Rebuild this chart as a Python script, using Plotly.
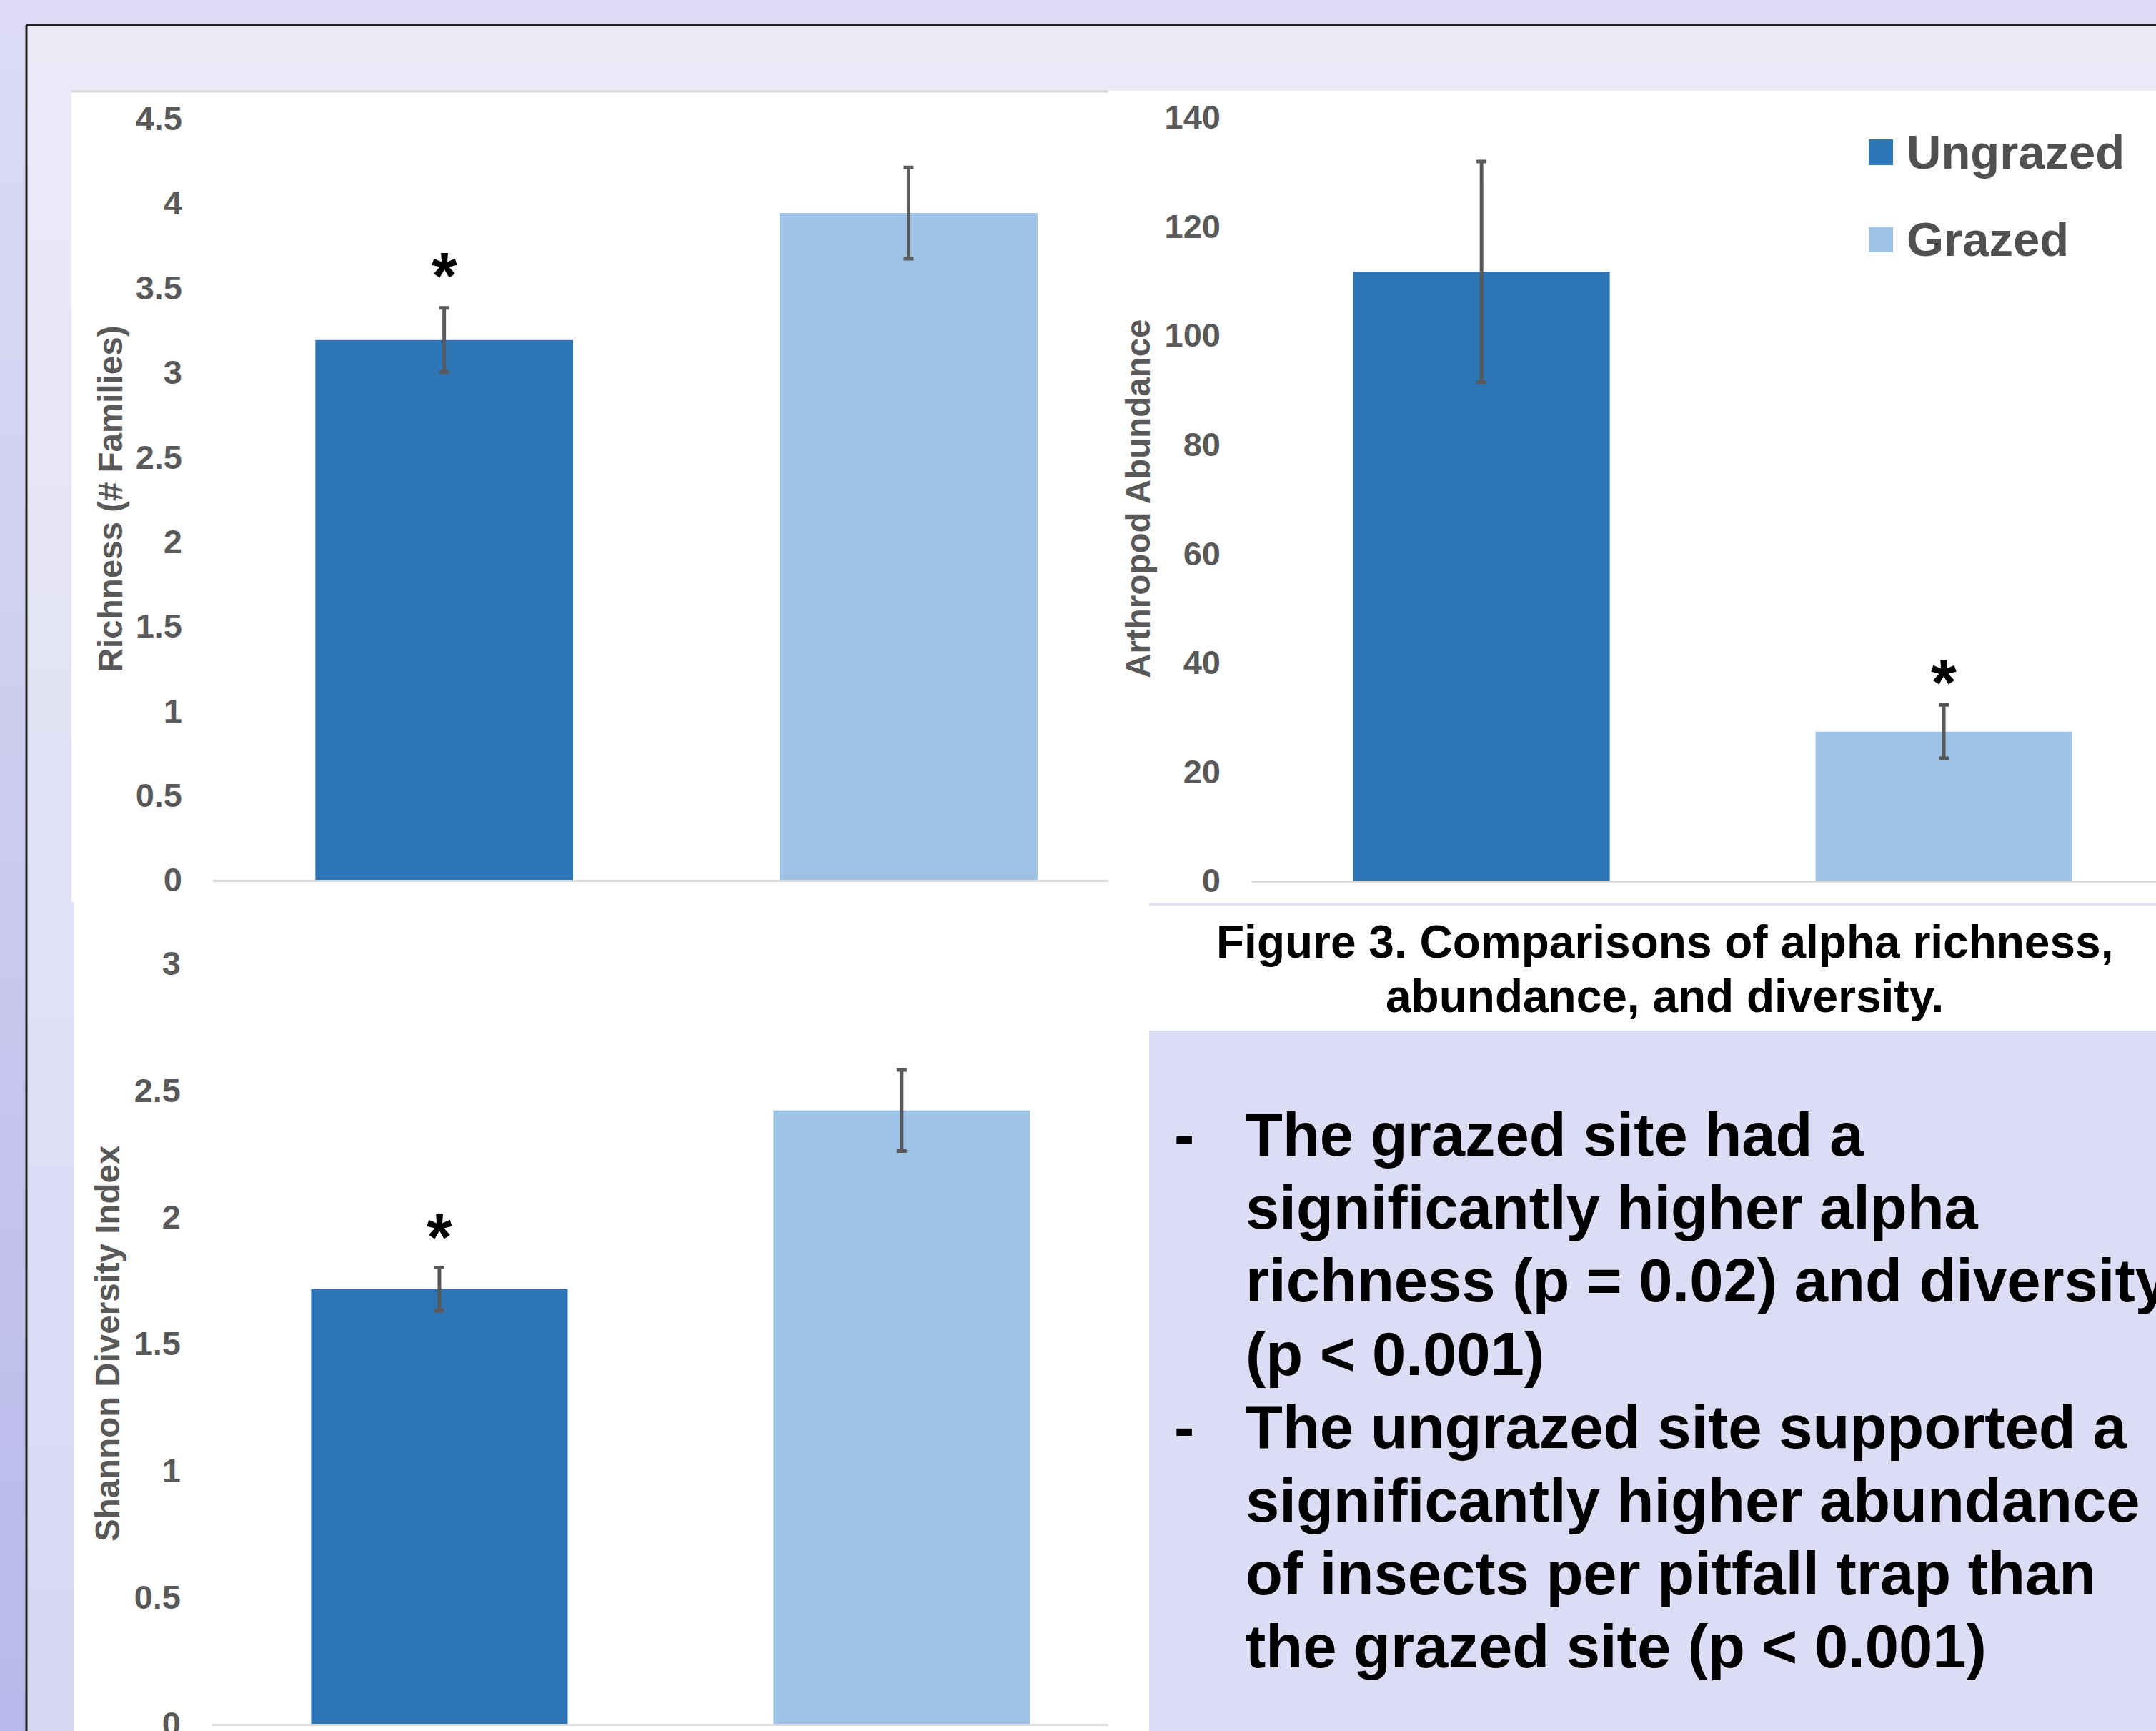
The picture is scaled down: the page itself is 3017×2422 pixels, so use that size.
import plotly.graph_objects as go

W, H = 3017, 2422
FONT = "Liberation Sans, Arial, sans-serif"
AXIS_GREY = "#595959"

# ---- data -------------------------------------------------------------
groups = ["Ungrazed", "Grazed"]
bar_colors = ["#2e75b6", "#9dc3e6"]

richness = [3.19, 3.94]
richness_se = [0.19, 0.27]
richness_sig = [True, False]
richness_ticks = [0, 0.5, 1, 1.5, 2, 2.5, 3, 3.5, 4, 4.5]

abundance = [111.6, 27.3]
abundance_se = [20.2, 4.9]
abundance_sig = [False, True]
abundance_ticks = [0, 20, 40, 60, 80, 100, 120, 140]

shannon = [1.715, 2.42]
shannon_se = [0.085, 0.16]
shannon_sig = [True, False]
shannon_ticks = [0, 0.5, 1, 1.5, 2, 2.5, 3]

caption_lines = [
    "Figure 3. Comparisons of alpha richness,",
    "abundance, and diversity.",
]
bullets = [
    ["The grazed site had a",
     "significantly higher alpha",
     "richness (p = 0.02) and diversity",
     "(p &lt; 0.001)"],
    ["The ungrazed site supported a",
     "significantly higher abundance",
     "of insects per pitfall trap than",
     "the grazed site (p &lt; 0.001)"],
]


# ---- helpers (pixel -> paper coordinates) -----------------------------
def fx(x):
    return x / W


def fy(y):
    return 1 - y / H


def rect(x0, y0, x1, y1, color):
    return dict(type="rect", xref="paper", yref="paper", layer="below",
                x0=fx(x0), x1=fx(x1), y0=fy(y1), y1=fy(y0),
                fillcolor=color, line=dict(width=0))


def hex2rgb(c):
    c = c.lstrip("#")
    return [int(c[i:i + 2], 16) for i in (0, 2, 4)]


def mix(c0, c1, t):
    a, b = hex2rgb(c0), hex2rgb(c1)
    return "rgb({},{},{})".format(*[round(a[i] + (b[i] - a[i]) * t) for i in range(3)])


shapes = []

# poster background: outer and inner vertical gradients
N = 48
for i in range(N):
    y0 = H * i / N
    y1 = H * (i + 1) / N + 1
    t = (i + 0.5) / N
    shapes.append(rect(0, y0, W, y1, mix("#dddcf4", "#b8b8ea", t)))
for i in range(N):
    y0 = 35 + (H - 35) * i / N
    y1 = 35 + (H - 35) * (i + 1) / N + 1
    t = (i + 0.5) / N
    shapes.append(rect(37, y0, W, y1, mix("#ebebf8", "#d7d7f4", t)))

# frame line
shapes.append(dict(type="line", xref="paper", yref="paper", layer="below",
                   x0=fx(37), x1=1, y0=fy(35), y1=fy(35),
                   line=dict(color="#1e1e1e", width=3)))
shapes.append(dict(type="line", xref="paper", yref="paper", layer="below",
                   x0=fx(37), x1=fx(37), y0=fy(35), y1=0,
                   line=dict(color="#1e1e1e", width=3)))

# white chart panels
shapes.append(rect(100, 127, 1551, 1262, "#ffffff"))
shapes.append(rect(1551, 127, W, 1263, "#ffffff"))
shapes.append(rect(104, 1260, 1608, H, "#ffffff"))
shapes.append(rect(1608, 1267, W, 1442, "#ffffff"))
shapes.append(dict(type="line", xref="paper", yref="paper", layer="below",
                   x0=fx(100), x1=fx(1551), y0=fy(128), y1=fy(128),
                   line=dict(color="#d6d6de", width=3)))
# text box
shapes.append(rect(1608, 1442, W, H, "#dddcf5"))

# ---- chart panels ----------------------------------------------------
panels = [
    dict(vals=richness, se=richness_se, sig=richness_sig, ticks=richness_ticks,
         title="Richness (# Families)", xdom=(298, 1551), xr=(-0.498, 1.43),
         zero_px=1231, top_px=165.5, title_x=154, star_shift=-8),
    dict(vals=abundance, se=abundance_se, sig=abundance_sig, ticks=abundance_ticks,
         title="Arthropod Abundance", xdom=(1751, W), xr=(-0.498, 1.459),
         zero_px=1232, top_px=163.5, title_x=1593, star_shift=-22),
    dict(vals=shannon, se=shannon_se, sig=shannon_sig, ticks=shannon_ticks,
         title="Shannon Diversity Index", xdom=(296, 1551), xr=(-0.493, 1.447),
         zero_px=2412, top_px=1348, title_x=150, star_shift=-10),
]

fig = go.Figure()
annotations = []
layout_axes = {}

for k, p in enumerate(panels, start=1):
    xa = "x" if k == 1 else f"x{k}"
    ya = "y" if k == 1 else f"y{k}"
    fig.add_trace(go.Bar(
        x=groups, y=p["vals"], width=0.555,
        marker=dict(color=bar_colors, line=dict(width=0)),
        error_y=dict(type="data", array=p["se"], color=AXIS_GREY,
                     thickness=5, width=7),
        xaxis=xa, yaxis=ya, showlegend=False,
    ))
    layout_axes["xaxis" if k == 1 else f"xaxis{k}"] = dict(
        domain=[fx(p["xdom"][0]), fx(p["xdom"][1])],
        range=list(p["xr"]), type="category", anchor=ya, automargin=False,
        showticklabels=False, showgrid=False, zeroline=False, ticks="",
        showline=True, linecolor="#d9d9d9", linewidth=3,
    )
    layout_axes["yaxis" if k == 1 else f"yaxis{k}"] = dict(
        domain=[fy(p["zero_px"]), fy(p["top_px"])],
        range=[0, p["ticks"][-1]], anchor=xa, automargin=False,
        tickvals=p["ticks"], showgrid=False, zeroline=False, showline=False,
        ticks="", ticklabelstandoff=42, ticklabeloverflow="allow",
        tickfont=dict(family=FONT, size=47, color=AXIS_GREY, weight="bold"),
    )
    # axis title
    annotations.append(dict(
        xref="paper", yref="paper", x=fx(p["title_x"]),
        y=(fy(p["zero_px"]) + fy(p["top_px"])) / 2,
        text=p["title"], textangle=-90, showarrow=False,
        xanchor="center", yanchor="middle",
        font=dict(family=FONT, size=47.5, color=AXIS_GREY, weight="bold"),
    ))
    # significance markers
    for g, v, e, s in zip(groups, p["vals"], p["se"], p["sig"]):
        if s:
            annotations.append(dict(
                xref=xa, yref=ya, x=g, y=v + e, text="*", showarrow=False,
                yanchor="bottom", yshift=p["star_shift"],
                font=dict(family=FONT, size=92, color="#000000", weight="bold"),
            ))

# ---- legend ----------------------------------------------------------
legend_rows = [213, 335]
for g, c, yc in zip(groups, bar_colors, legend_rows):
    shapes.append(dict(type="rect", xref="paper", yref="paper",
                       x0=fx(2615), x1=fx(2649), y0=fy(yc + 18), y1=fy(yc - 18),
                       fillcolor=c, line=dict(width=0)))
    annotations.append(dict(
        xref="paper", yref="paper", x=fx(2666), y=fy(yc), text=g,
        showarrow=False, xanchor="left", yanchor="middle",
        font=dict(family=FONT, size=67, color="#505050", weight="bold"),
    ))

# ---- caption ---------------------------------------------------------
for line, yc in zip(caption_lines, [1318, 1394]):
    annotations.append(dict(
        xref="paper", yref="paper", x=fx(2329), y=fy(yc), text=line,
        showarrow=False, xanchor="center", yanchor="middle",
        font=dict(family=FONT, size=64, color="#000000", weight="bold"),
    ))

# ---- bullet points ---------------------------------------------------
line_step = 102.4
y_line = 1587
for item in bullets:
    annotations.append(dict(
        xref="paper", yref="paper", x=fx(1657), y=fy(y_line), text="-",
        showarrow=False, xanchor="center", yanchor="middle",
        font=dict(family=FONT, size=85, color="#000000", weight="bold"),
    ))
    for line in item:
        annotations.append(dict(
            xref="paper", yref="paper", x=fx(1741), y=fy(y_line), text=line,
            showarrow=False, xanchor="left", yanchor="middle",
            font=dict(family=FONT, size=85, color="#000000", weight="bold"),
        ))
        y_line += line_step

fig.update_layout(
    width=W, height=H, margin=dict(l=0, r=0, t=0, b=0, autoexpand=False),
    paper_bgcolor="#dddcf4", plot_bgcolor="rgba(0,0,0,0)",
    showlegend=False, shapes=shapes, annotations=annotations,
    font=dict(family=FONT),
    **layout_axes,
)

fig.write_html("out.html", config={"displayModeBar": False})
